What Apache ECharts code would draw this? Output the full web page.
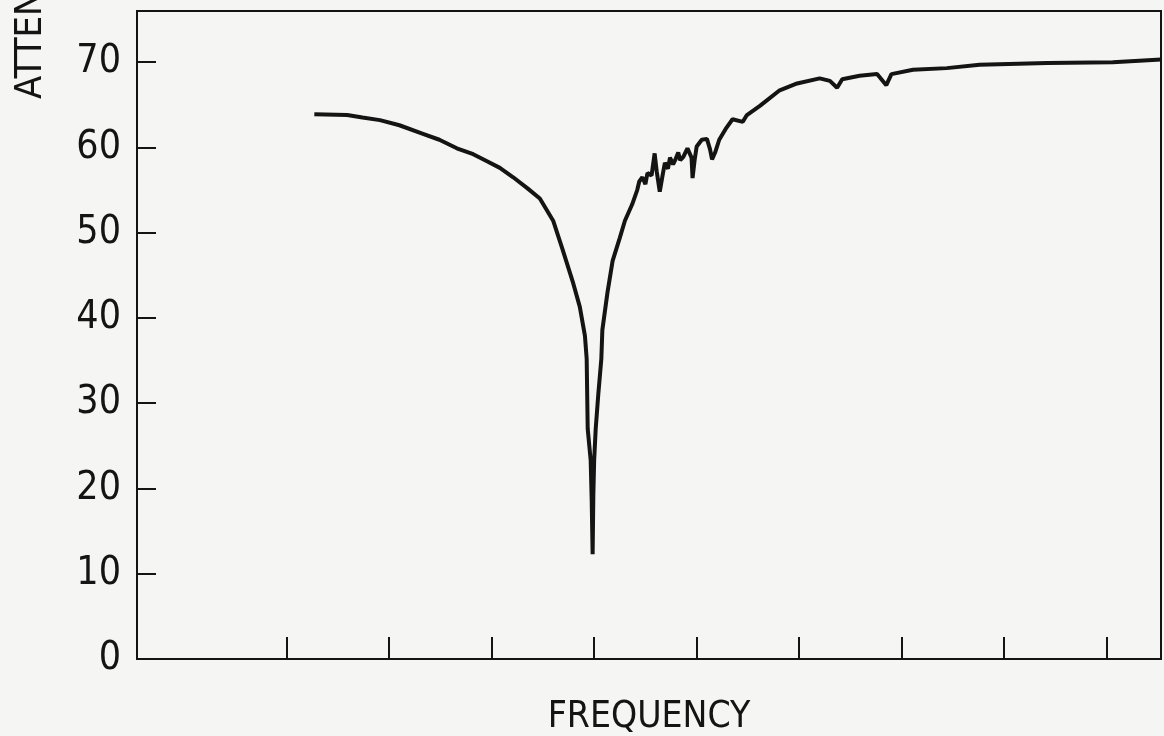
<!DOCTYPE html>
<html>
<head>
<meta charset="utf-8">
<script src="https://cdn.jsdelivr.net/npm/echarts@6.0.0/dist/echarts.min.js"></script>
<style>
  html, body { margin: 0; padding: 0; background: #f5f5f3; }
  #main { width: 1164px; height: 736px; }
</style>
</head>
<body>
<div id="main"></div>
<script>
// frequency, in tick units (unlabelled axis)
var freq = [
  1.27, 1.59, 1.74, 1.91, 2.10, 2.33, 2.49, 2.66, 2.82, 2.95,
  3.08, 3.21, 3.35, 3.47, 3.60, 3.69, 3.79, 3.86, 3.91, 3.927,
  3.937, 3.966, 3.976, 3.985, 3.992, 4.00, 4.015, 4.04, 4.07, 4.08,
  4.13, 4.18, 4.25, 4.30, 4.37, 4.42, 4.44, 4.47, 4.50, 4.52,
  4.56, 4.59, 4.61, 4.64, 4.67, 4.69, 4.72, 4.74, 4.77, 4.79,
  4.82, 4.84, 4.87, 4.91, 4.95, 4.96, 4.98, 5.00, 5.05, 5.10,
  5.13, 5.15, 5.18, 5.22, 5.29, 5.35, 5.45, 5.49, 5.62, 5.81,
  5.98, 6.20, 6.30, 6.37, 6.42, 6.59, 6.76, 6.85, 6.90, 7.11,
  7.44, 7.76, 8.42, 9.06, 9.53
];
// attenuation, dB
var atten = [
  63.9, 63.8, 63.5, 63.2, 62.6, 61.6, 60.9, 59.9, 59.2, 58.4,
  57.6, 56.5, 55.2, 54.0, 51.4, 48.1, 44.3, 41.3, 37.9, 35.2,
  27.0, 23.3, 18.6, 12.3, 19.3, 23.3, 27.0, 31.0, 35.2, 38.6,
  43.0, 46.7, 49.4, 51.4, 53.3, 55.0, 56.0, 56.5, 55.7, 57.0,
  56.7, 59.3, 57.2, 54.8, 56.9, 58.2, 57.5, 58.8, 58.0, 58.5,
  59.4, 58.5, 58.9, 59.9, 58.8, 56.4, 58.5, 60.1, 60.9, 61.0,
  59.8, 58.6, 59.4, 60.9, 62.3, 63.3, 63.0, 63.8, 64.9, 66.7,
  67.5, 68.1, 67.8, 67.0, 68.0, 68.4, 68.6, 67.3, 68.6, 69.1,
  69.3, 69.7, 69.9, 70.0, 70.3
];
var yTicks = [0, 10, 20, 30, 40, 50, 60, 70];
var xTicks = [1, 2, 3, 4, 5, 6, 7, 8, 9];

var ink = '#141414';
var narrow = "'Liberation Sans Narrow', 'DejaVu Sans Condensed', sans-serif";

var points = [];
for (var i = 0; i < freq.length; i++) {
  points.push([freq[i], atten[i]]);
}

var myChart = echarts.init(document.getElementById('main'));
myChart.setOption({
  animation: false,
  backgroundColor: '#f5f5f3',
  grid: {
    left: 137, right: 3, top: 11, bottom: 77,
    outerBoundsMode: 'none',
    containLabel: false,
    show: true, borderColor: ink, borderWidth: 2
  },
  xAxis: {
    type: 'value',
    min: -0.46, max: 9.53,
    name: 'FREQUENCY',
    nameLocation: 'middle',
    nameGap: 40,
    nameTextStyle: { fontFamily: narrow, fontSize: 37, color: ink },
    axisLine: { onZero: false, lineStyle: { color: ink, width: 2 } },
    axisTick: { inside: true, length: 22, customValues: xTicks, lineStyle: { color: ink, width: 2 } },
    axisLabel: { show: false },
    splitLine: { show: false }
  },
  yAxis: {
    type: 'value',
    min: 0, max: 76,
    axisLine: { onZero: false, lineStyle: { color: ink, width: 2 } },
    axisTick: { inside: true, length: 19, customValues: yTicks, lineStyle: { color: ink, width: 2 } },
    axisLabel: { customValues: yTicks, margin: 16, fontFamily: narrow, fontSize: 39, color: ink },
    splitLine: { show: false }
  },
  graphic: [{
    type: 'text',
    x: 31, y: 99,
    rotation: Math.PI / 2,
    style: {
      text: 'ATTENUATION',
      fontFamily: narrow, fontSize: 38, fill: ink,
      align: 'left', verticalAlign: 'middle'
    }
  }],
  series: [{
    type: 'line',
    data: points,
    showSymbol: false,
    lineStyle: { color: ink, width: 4 },
    clip: true
  }]
});
</script>
</body>
</html>
